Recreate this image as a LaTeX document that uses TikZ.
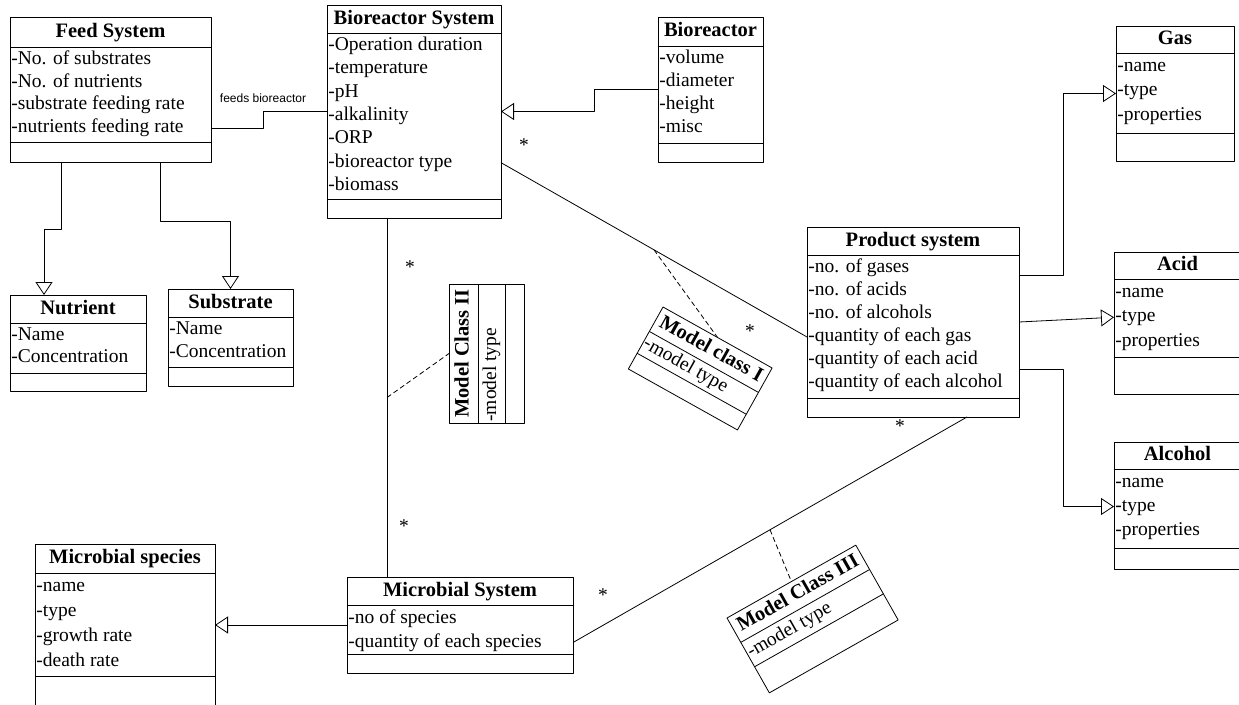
\documentclass[tikz,border=0pt]{standalone}
\usepackage{fontspec}
\setmainfont{Liberation Serif}
\newfontfamily\labelfont{Liberation Sans}
\usetikzlibrary{arrows.meta}

% class box: [scope opts]{name}{width}{title h}{attr h}{empty h}{line pitch}{title}{attributes}
\newcommand{\umlclass}[9][]{%
  \begin{scope}[#1]
    \node[classbox, minimum width=#3pt, minimum height=#4pt+#5pt+#6pt] (#2) at (0,0) {};
    \draw (0,-#4) -- ++(#3,0) (0,-#4-#5) -- ++(#3,0);
    \node[classname] (#2-t) at (#3/2,-#4/2) {#8};
    \foreach \txt [count=\n] in {#9}
      \node[classattr] (#2-\n) at (1,{-#4-1.5-(\n-0.5)*#7}) {\txt};
  \end{scope}}

\begin{document}
\begin{tikzpicture}[x=1pt, y=1pt, line join=round, line width=0.8pt,
    classbox/.style={draw, anchor=north west, inner sep=0pt, outer sep=0pt},
    classname/.style={font=\fontsize{20.5}{24}\selectfont\bfseries, inner sep=0pt, text height=14pt, text depth=4pt},
    classattr/.style={anchor=west, font=\fontsize{19.5}{23}\selectfont, inner sep=0pt, text height=13pt, text depth=4pt},
    inh/.style={-{Triangle[open, length=13pt, width=17pt]}},
    mult/.style={font=\fontsize{19.5}{23}\selectfont, inner sep=0pt},
    link/.style={dash pattern=on 5pt off 3pt}]
  \useasboundingbox (0,0) rectangle (1239,-704);
  \clip (0,0) rectangle (1239,-704);

  \umlclass[shift={(10,-17)}]{feed}{201}{30}{95}{20}{22.7}{Feed System}{-No. of substrates,-No. of nutrients,-substrate feeding rate,-nutrients feeding rate}
  \umlclass[shift={(327,-5)}]{brs}{174}{28}{166}{19}{23.3}{Bioreactor System}{-Operation duration,-temperature,-pH,-alkalinity,-ORP,-bioreactor type,-biomass}
  \umlclass[shift={(658,-17)}]{bior}{105}{29}{97}{19}{23}{Bioreactor}{-volume,-diameter,-height,-misc}
  \umlclass[shift={(10,-295)}]{nutr}{136}{28}{50}{18}{22}{Nutrient}{-Name,-Concentration}
  \umlclass[shift={(168,-289)}]{subs}{125}{28}{50}{19}{23}{Substrate}{-Name,-Concentration}
  \umlclass[shift={(807,-227)}]{prod}{212}{28}{143}{19}{23}{Product system}{-no. of gases,-no. of acids,-no. of alcohols,-quantity of each gas,-quantity of each acid,-quantity of each alcohol}
  \umlclass[shift={(1116,-26)}]{gas}{118}{27}{80}{28}{24.5}{Gas}{-name,-type,-properties}
  \umlclass[shift={(1114,-252)}]{acid}{127}{27}{78}{37}{24.5}{Acid}{-name,-type,-properties}
  \umlclass[shift={(1114,-442)}]{alco}{127}{27}{79}{21}{24}{Alcohol}{-name,-type,-properties}
  \umlclass[shift={(35,-544)}]{mspec}{180}{29}{103}{40}{25}{Microbial species}{-name,-type,-growth rate,-death rate}
  \umlclass[shift={(347,-577)}]{msys}{226}{28}{49}{19}{24}{Microbial System}{-no of species,-quantity of each species}
  \umlclass[shift={(663,-307)}, rotate=-29.2, transform shape]{mc1}{125}{28}{25}{18}{22}{Model class I}{-model type}
  \umlclass[shift={(449,-423)}, rotate=90, transform shape]{mc2}{139}{29}{27}{19}{24}{Model Class II}{-model type}
  \umlclass[shift={(727,-618)}, rotate=29.5, transform shape]{mc3}{148}{28}{28}{30}{25}{Model Class III}{-model type}

  \draw (feed.east |- feed-4) -- ++(52,0) |- node[above=5pt, font=\labelfont\fontsize{12}{14}\selectfont] {feeds bioreactor} (brs.west);
  \draw[inh] (bior.west) -- ++(-64,0) |- (brs.east);
  \draw[inh] ([xshift=51pt]feed.south west) -- ++(0,-67) -| ([xshift=34pt]nutr.north west);
  \draw[inh] ([xshift=150pt]feed.south west) -- ++(0,-59) -| (subs.north);
  \draw ([xshift=60pt]brs.south west) -- ([xshift=40pt]msys.north west) coordinate[pos=0.5] (a2);
  \draw (brs.east |- brs-6) -- (prod.west |- prod-4) coordinate[pos=0.5] (a1);
  \draw (msys.east |- msys-2) -- ([xshift=-52pt]prod.south east) coordinate[pos=0.5] (a3);
  \draw[inh] (msys.west) -- (mspec.east |- msys.west);
  \draw[inh] ([yshift=-48pt]prod.north east) -- ++(44,0) |- (gas.west);
  \draw[inh] (prod.east) -- (acid.west |- acid-2);
  \draw[inh] ([yshift=48pt]prod.south east) -- ++(44,0) |- (alco.west |- alco-2);
  \draw[link] (a1) -- (mc1.north);
  \draw[link] (a2) -- (mc2.north);
  \draw[link] (a3) -- (mc3.north);

  \foreach \p [count=\n] in {(524,-145),(750,-331),(410,-267),(404,-526),(603,-595),(900,-426)}
    \node[mult] (star\n) at \p {*};
\end{tikzpicture}
\end{document}
